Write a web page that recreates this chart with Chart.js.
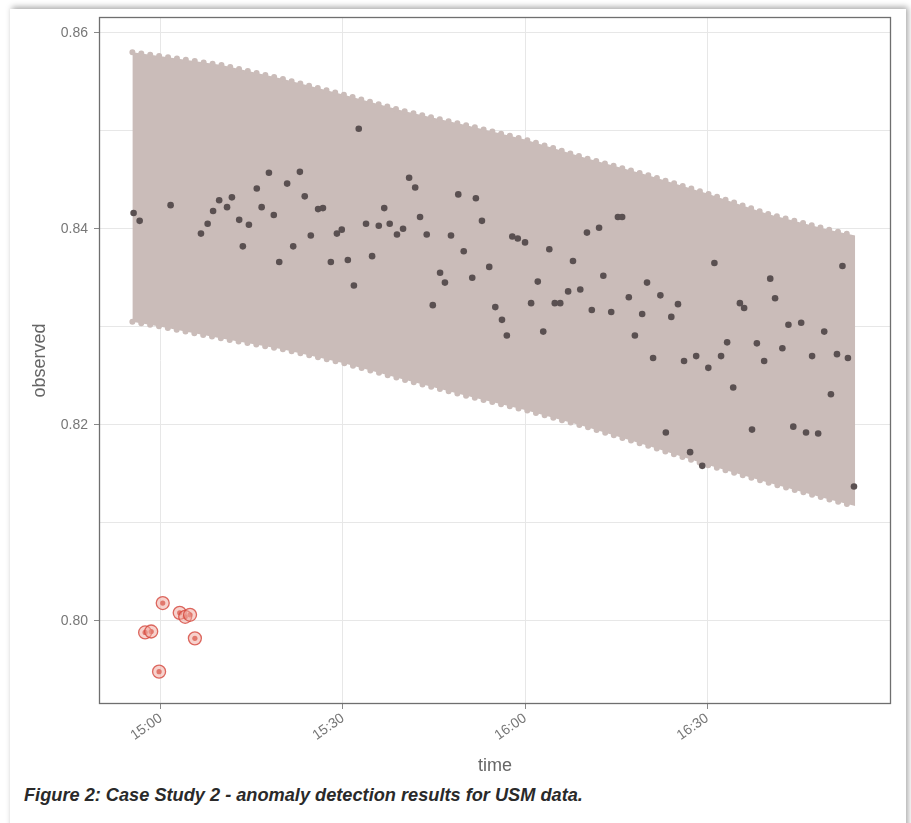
<!DOCTYPE html>
<html>
<head>
<meta charset="utf-8">
<script src="https://cdn.jsdelivr.net/npm/chart.js@4.4.1/dist/chart.umd.min.js"></script>
<style>
  html, body { margin: 0; padding: 0; background: #fff; width: 911px; height: 823px; overflow: hidden; }
  #card { position: absolute; left: 10px; top: 9px; width: 896px; height: 830px; background: #fff; box-shadow: 2px -2px 6px rgba(0,0,0,0.35); }
  #wrap { position: absolute; left: 0; top: 0; width: 911px; height: 785px; }
  #caption { position: absolute; left: 24px; top: 785px; font: italic 600 18.2px "Liberation Sans", Arial, sans-serif; color: #2a2a2a; white-space: nowrap; }
</style>
</head>
<body>
<div id="card"></div>
<div id="wrap"><canvas id="chart" width="911" height="785"></canvas></div>
<div id="caption">Figure 2: Case Study 2 - anomaly detection results for USM data.</div>
<script>
// time is in minutes since midnight (900 = 15:00)
var time = [
  895.5, 896.5, 901.6, 906.6, 907.7, 908.6, 909.6, 910.9, 911.7, 912.9,
  913.5, 914.5, 915.8, 916.6, 917.8, 918.6, 919.5, 920.8, 921.8, 922.9,
  923.7, 924.7, 925.9, 926.7, 928.0, 929.0, 929.8, 930.8, 931.8, 932.6,
  933.8, 934.8, 935.9, 936.8, 937.7, 938.9, 939.9, 940.9, 941.9, 942.7,
  943.8, 944.8, 946.0, 946.8, 947.8, 949.0, 949.9, 951.3, 951.9, 952.9,
  954.1, 955.1, 956.2, 957.0, 957.9, 958.8, 960.0, 961.0, 962.1, 963.0,
  964.0, 964.9, 965.8, 967.1, 967.9, 969.1, 970.2, 971.0, 972.2, 972.9,
  974.2, 975.3, 976.0, 977.1, 978.1, 979.3, 980.1, 981.1, 982.3, 983.2,
  984.1, 985.2, 986.2, 987.2, 988.2, 989.2, 990.2, 991.2, 992.3, 993.3,
  994.3, 995.4, 996.1, 997.4, 998.2, 999.4, 1000.4, 1001.2, 1002.4, 1003.4,
  1004.2, 1005.5, 1006.3, 1007.3, 1008.3, 1009.3, 1010.4, 1011.4, 1012.3, 1013.2,
  1014.2
];
var observed = [
  0.8416, 0.8408, 0.8424, 0.8395, 0.8405, 0.8418, 0.8429, 0.8422, 0.8432, 0.8409,
  0.8382, 0.8404, 0.8441, 0.8422, 0.8457, 0.8414, 0.8366, 0.8446, 0.8382, 0.8458,
  0.8433, 0.8393, 0.8420, 0.8421, 0.8366, 0.8395, 0.8399, 0.8368, 0.8342, 0.8502,
  0.8405, 0.8372, 0.8403, 0.8421, 0.8405, 0.8394, 0.8400, 0.8452, 0.8442, 0.8412,
  0.8394, 0.8322, 0.8355, 0.8345, 0.8393, 0.8435, 0.8377, 0.8350, 0.8431, 0.8408,
  0.8361, 0.8320, 0.8307, 0.8291, 0.8392, 0.8390, 0.8386, 0.8324, 0.8346, 0.8295,
  0.8379, 0.8324, 0.8324, 0.8336, 0.8367, 0.8338, 0.8396, 0.8317, 0.8401, 0.8352,
  0.8315, 0.8412, 0.8412, 0.8330, 0.8291, 0.8313, 0.8345, 0.8268, 0.8332, 0.8192,
  0.8310, 0.8323, 0.8265, 0.8172, 0.8270, 0.8158, 0.8258, 0.8365, 0.8270, 0.8284,
  0.8238, 0.8324, 0.8319, 0.8195, 0.8283, 0.8265, 0.8349, 0.8329, 0.8278, 0.8302,
  0.8198, 0.8304, 0.8192, 0.8270, 0.8191, 0.8295, 0.8231, 0.8272, 0.8362, 0.8268,
  0.8137
];

// flagged anomalies
var anomalyTime = [897.4, 898.4, 899.7, 900.3, 903.1, 904.0, 904.8, 905.6];
var anomalyObserved = [0.7988, 0.7989, 0.7948, 0.8018, 0.8008, 0.8004, 0.8006, 0.7982];

// normal range band (recomposed l1 / l2)
var bandTime = [895.3, 900, 910, 920, 930, 940, 950, 960, 970, 980, 990, 1000, 1010, 1014.4];
var bandUpper = [0.8580, 0.8576, 0.8567, 0.8553, 0.8537, 0.8520, 0.8506, 0.8491, 0.8472, 0.8455, 0.8436, 0.8415, 0.8399, 0.8393];
var bandLower = [0.8305, 0.8300, 0.8288, 0.8277, 0.8263, 0.8246, 0.8230, 0.8215, 0.8198, 0.8179, 0.8159, 0.8141, 0.8124, 0.8117];

var xTickValues = [900, 930, 960, 990];
var xTickLabels = ["15:00", "15:30", "16:00", "16:30"];
var yTickValues = [0.80, 0.82, 0.84, 0.86];
var yGridValues = [0.80, 0.81, 0.82, 0.83, 0.84, 0.85, 0.86];

function toPoints(xs, ys) {
  return xs.map(function (x, i) { return { x: x, y: ys[i] }; });
}

function isMajor(v) {
  return yTickValues.some(function (t) { return Math.abs(t - v) < 1e-6; });
}

var bandColor = "#cabcb9";
var fontFamily = "'Liberation Sans', Arial, sans-serif";

// grey box round the panel, like the ggplot border
var panelBorder = {
  id: "panelBorder",
  afterDraw: function (chart) {
    var a = chart.chartArea;
    var c = chart.ctx;
    c.save();
    c.strokeStyle = "#6f6f6f";
    c.lineWidth = 1.3;
    c.strokeRect(a.left + 0.5, a.top + 0.5, a.right - a.left - 1, a.bottom - a.top - 1);
    c.restore();
  }
};

var ctx = document.getElementById("chart").getContext("2d");

new Chart(ctx, {
  type: "scatter",
  data: {
    datasets: [
      {
        label: "anomaly ring",
        data: toPoints(anomalyTime, anomalyObserved),
        pointRadius: 6.5,
        backgroundColor: "rgba(240,165,155,0.5)",
        borderColor: "rgba(212,70,60,0.8)",
        borderWidth: 1.3,
        order: 0
      },
      {
        label: "anomaly",
        data: toPoints(anomalyTime, anomalyObserved),
        pointRadius: 2.6,
        backgroundColor: "#d34a3e",
        borderWidth: 0,
        order: 0
      },
      {
        label: "observed",
        data: toPoints(time, observed),
        pointRadius: 3.3,
        backgroundColor: "#5a5051",
        borderWidth: 0,
        order: 1
      },
      {
        label: "upper",
        type: "line",
        data: toPoints(bandTime, bandUpper),
        fill: "+1",
        backgroundColor: bandColor,
        borderColor: bandColor,
        borderWidth: 6,
        borderDash: [0, 9],
        borderCapStyle: "round",
        pointRadius: 0,
        tension: 0,
        order: 2
      },
      {
        label: "lower",
        type: "line",
        data: toPoints(bandTime, bandLower),
        fill: false,
        borderColor: bandColor,
        borderWidth: 6,
        borderDash: [0, 9],
        borderCapStyle: "round",
        pointRadius: 0,
        tension: 0,
        order: 2
      }
    ]
  },
  options: {
    responsive: false,
    animation: false,
    layout: { padding: { left: 0, right: 20, top: 17, bottom: 0 } },
    plugins: {
      legend: { display: false },
      tooltip: { enabled: false }
    },
    scales: {
      x: {
        type: "linear",
        min: 889.8,
        max: 1020.3,
        afterBuildTicks: function (scale) {
          scale.ticks = xTickValues.map(function (v) { return { value: v }; });
        },
        afterFit: function (scale) { scale.height = 81; },
        ticks: {
          autoSkip: false,
          minRotation: 35,
          maxRotation: 35,
          padding: 1,
          color: "#777",
          font: { family: fontFamily, size: 14 },
          callback: function (value, index) { return xTickLabels[index]; }
        },
        grid: { color: "#e7e7e7", lineWidth: 1, tickLength: 5, tickColor: "#8a8a8a" },
        border: { display: false },
        title: {
          display: true,
          text: "time",
          color: "#666",
          font: { family: fontFamily, size: 18 },
          padding: { top: 0, bottom: 8 }
        }
      },
      y: {
        type: "linear",
        min: 0.7915,
        max: 0.8616,
        afterBuildTicks: function (scale) {
          scale.ticks = yGridValues.map(function (v) { return { value: v }; });
        },
        afterFit: function (scale) { scale.width = 99; },
        ticks: {
          padding: 6,
          color: "#777",
          font: { family: fontFamily, size: 14 },
          callback: function (value) { return isMajor(value) ? value.toFixed(2) : ""; }
        },
        grid: {
          color: "#e7e7e7",
          lineWidth: 1,
          tickLength: 5,
          tickColor: function (c) { return c.tick && isMajor(c.tick.value) ? "#8a8a8a" : "rgba(0,0,0,0)"; }
        },
        border: { display: false },
        title: {
          display: true,
          text: "observed",
          color: "#666",
          font: { family: fontFamily, size: 18 },
          padding: { top: 29, bottom: 0 }
        }
      }
    }
  },
  plugins: [panelBorder]
});
</script>
</body>
</html>
